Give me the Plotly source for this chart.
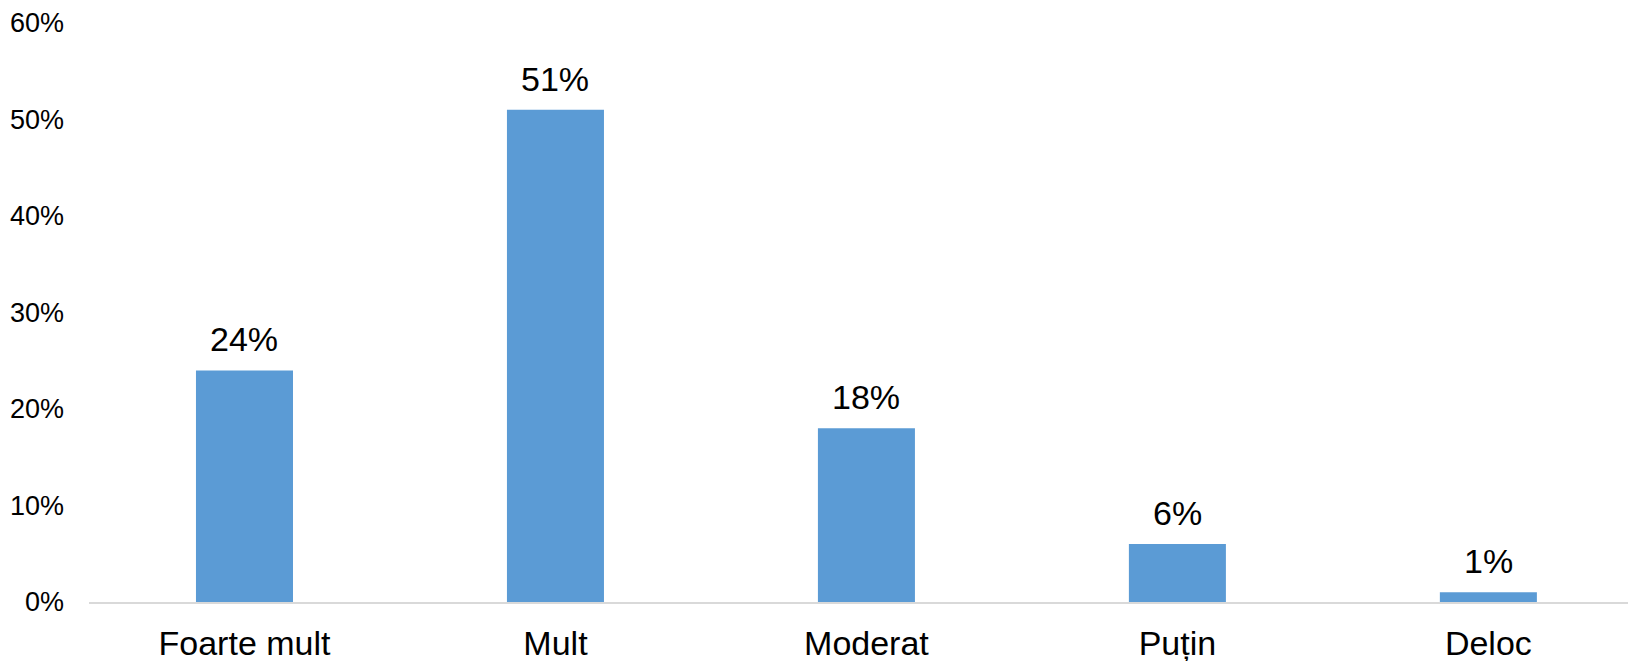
import plotly.graph_objects as go

categories = ["Foarte mult", "Mult", "Moderat", "Puțin", "Deloc"]
values = [24, 51, 18, 6, 1]
y_ticks = [0, 10, 20, 30, 40, 50, 60]

FONT = "Liberation Sans, Arial, sans-serif"
BAR_COLOR = "#5B9BD5"

fig = go.Figure()
fig.add_trace(go.Bar(
    x=list(range(len(categories))),
    y=values,
    width=0.312,
    marker=dict(color=BAR_COLOR, line=dict(width=0)),
    hoverinfo="skip",
))

# value labels above each bar
for i, v in enumerate(values):
    fig.add_annotation(
        x=i, y=v, text=f"{v}%", showarrow=False,
        yanchor="bottom", yshift=10,
        font=dict(family=FONT, size=34, color="#000000"),
    )

fig.update_layout(
    width=1628, height=661,
    margin=dict(l=89, r=0, t=23, b=59),
    paper_bgcolor="white", plot_bgcolor="white",
    showlegend=False,
    font=dict(family=FONT, color="#000000"),
)
fig.update_xaxes(
    range=[-0.5, 4.449],
    tickmode="array",
    tickvals=list(range(len(categories))),
    ticktext=categories,
    tickfont=dict(family=FONT, size=34, color="#000000"),
    showgrid=False, zeroline=False,
    showline=True, linecolor="#D9D9D9", linewidth=2,
    ticks="", ticklabelstandoff=10,
)
fig.update_yaxes(
    range=[0, 60],
    tickvals=y_ticks,
    ticktext=[f"{t}%" for t in y_ticks],
    tickfont=dict(family=FONT, size=27, color="#000000"),
    showgrid=False, zeroline=False, showline=False,
    ticks="", ticklabelstandoff=24,
)

fig.write_html("out.html")
